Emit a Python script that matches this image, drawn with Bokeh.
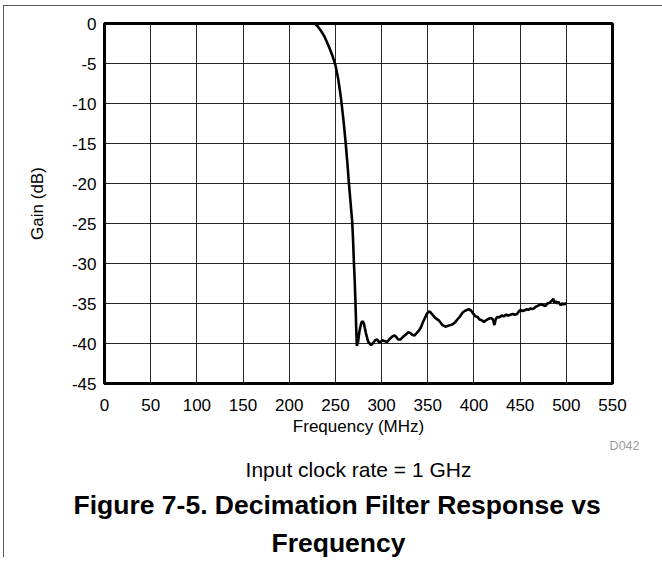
from bokeh.plotting import figure
from bokeh.models import FixedTicker, Title
from bokeh.embed import file_html
from bokeh.resources import INLINE

# ---- data ----
freq_mhz = [227, 230, 234, 238, 243, 247, 250, 253, 256, 259, 261, 263, 264.5, 266.5,
            268.2, 269.2, 270, 271, 271.8, 272.5, 273.2, 274.5, 276, 278, 279.7, 281,
            283, 285.5, 288.7, 291, 293, 295.2, 297, 299, 301, 303, 306, 309, 312, 314,
            316, 318, 320.4, 323, 326, 329, 331.3, 333, 335.6, 338, 340.3, 342.5, 344.5,
            346.5, 349, 351.1, 353, 355.8, 358, 361.9, 364, 366, 369.2, 371.5, 374.6,
            377, 380, 382, 385, 388, 390.5, 394.4, 397, 399.5, 401.7, 404, 406, 408.5,
            410.7, 413, 416.1, 418.5, 420.5, 422.2, 423.5, 425, 428, 430, 432.2, 435,
            437, 439.5, 442, 444, 446.7, 448.5, 450.3, 452.5, 455, 457, 459, 461.2, 463,
            465, 467, 469, 472, 474.5, 477.4, 479.5, 482, 484.6, 486, 487, 488.5, 490,
            491.5, 493.7, 495.5, 497.5, 499.1, 500]
gain_db = [0.0, -0.25, -0.85, -1.6, -2.9, -4.1, -5.2, -6.9, -9.3, -12.4, -14.8, -17.5,
           -19.8, -22.5, -24.8, -27.3, -29.8, -32.5, -35.2, -38.0, -40.3, -39.8, -38.5,
           -37.4, -37.2, -37.6, -38.7, -39.8, -40.2, -39.9, -39.6, -39.5, -39.8, -39.8,
           -39.6, -39.7, -39.8, -39.4, -39.1, -39.0, -39.2, -39.5, -39.5, -39.2, -38.9,
           -38.6, -38.7, -38.9, -39.0, -38.7, -38.4, -38.0, -37.4, -36.9, -36.3, -36.0,
           -36.1, -36.5, -36.8, -37.1, -37.4, -37.7, -37.9, -37.8, -37.7, -37.6, -37.3,
           -37.0, -36.6, -36.1, -35.9, -35.7, -35.9, -36.3, -36.6, -36.7, -37.0, -37.1,
           -37.3, -37.1, -36.9, -36.8, -37.0, -37.7, -37.0, -36.7, -36.7, -36.5, -36.6,
           -36.4, -36.5, -36.4, -36.3, -36.4, -36.3, -36.0, -35.8, -35.95, -35.85, -35.7,
           -35.8, -35.6, -35.7, -35.6, -35.4, -35.3, -35.1, -35.2, -35.3, -35.0, -34.9,
           -34.6, -34.4, -34.9, -34.7, -35.0, -34.8, -35.2, -35.0, -35.1, -35.0, -35.0]
x_ticks = [0, 50, 100, 150, 200, 250, 300, 350, 400, 450, 500, 550]
y_ticks = [-45, -40, -35, -30, -25, -20, -15, -10, -5, 0]

x_label = "Frequency (MHz)"
y_label = "Gain (dB)"
note = "Input clock rate = 1 GHz"
caption1 = "Figure 7-5. Decimation Filter Response vs"
caption2 = "Frequency"
code = "D042"

FONT = "Liberation Sans"

p = figure(frame_width=508, frame_height=360, x_range=(0, 550), y_range=(-45, 0),
           output_backend="svg", toolbar_location=None,
           min_border_left=100, min_border_right=50, min_border_top=17,
           min_border_bottom=150)
p.styles = {"margin-left": "3px", "margin-top": "5px",
            "border-top": "1px solid #555", "border-left": "1px solid #555"}

p.line(freq_mhz, gain_db, line_color="black", line_width=2.6)

p.outline_line_color = "black"
p.outline_line_width = 3
p.background_fill_color = "white"
p.border_fill_color = "white"

for ax, ticks in ((p.xaxis, x_ticks), (p.yaxis, y_ticks)):
    ax.ticker = FixedTicker(ticks=ticks)
    ax.major_label_overrides = {t: str(t) for t in ticks}
    ax.axis_line_color = None
    ax.major_tick_line_color = None
    ax.minor_tick_line_color = None
    ax.major_tick_out = 0
    ax.major_tick_in = 0
    ax.major_label_text_font = FONT
    ax.major_label_text_font_size = "17px"
    ax.major_label_text_color = "black"
    ax.axis_label_text_font = FONT
    ax.axis_label_text_font_size = "17px"
    ax.axis_label_text_font_style = "normal"
    ax.axis_label_text_color = "black"

p.xaxis.axis_label = x_label
p.yaxis.axis_label = y_label
p.xaxis.major_label_standoff = 15
p.xaxis.axis_label_standoff = 3
p.yaxis.major_label_standoff = 8
p.yaxis.axis_label_standoff = 22

p.xgrid.ticker = FixedTicker(ticks=x_ticks)
p.ygrid.ticker = FixedTicker(ticks=y_ticks)
for g in (p.xgrid, p.ygrid):
    g.grid_line_color = "black"
    g.grid_line_alpha = 0.85
    g.grid_line_width = 1

p.add_layout(Title(text=code, align="right", offset=-27, vertical_align="top",
                   text_font=FONT, text_font_size="12.5px", text_font_style="normal",
                   text_color="#9c9c9c", standoff=0), "below")
p.add_layout(Title(text=note, align="center", text_font=FONT, text_font_size="21px",
                   text_font_style="normal", text_color="black", standoff=2), "below")
p.add_layout(Title(text=caption1, align="left", offset=-31, text_font=FONT,
                   text_font_size="26.5px", text_font_style="bold", text_color="black",
                   standoff=12), "below")
p.add_layout(Title(text=caption2, align="left", offset=167, text_font=FONT,
                   text_font_size="26.5px", text_font_style="bold", text_color="black",
                   standoff=0), "below")

open("out.html", "w").write(file_html(p, INLINE))
